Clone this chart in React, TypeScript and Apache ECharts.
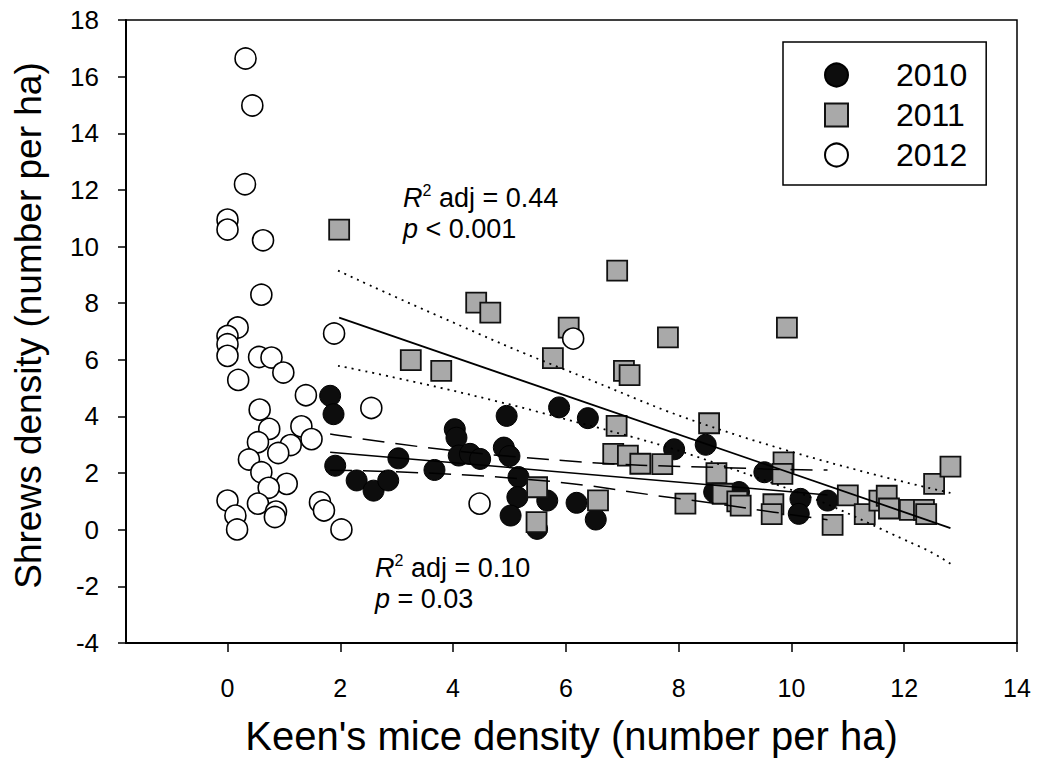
import React, { useEffect, useRef } from "react";
import * as echarts from "echarts";

const FONT = "'Liberation Sans', Arial, Helvetica, sans-serif";

// 2010 – filled black circles [Keen's mice density, Shrews density]
const data2010: number[][] = [
  [1.82, 4.73], [1.88, 4.08], [1.91, 2.26], [2.29, 1.74], [2.59, 1.38],
  [2.85, 1.74], [3.03, 2.52], [3.67, 2.11], [4.03, 3.55], [4.06, 3.25],
  [4.1, 2.62], [4.3, 2.68], [4.48, 2.5], [4.95, 4.02], [4.9, 2.9],
  [5.0, 2.6], [5.16, 1.86], [5.14, 1.15], [5.02, 0.5], [5.67, 1.03],
  [5.49, 0.03], [6.19, 0.95], [6.53, 0.36], [5.88, 4.32], [6.39, 3.94],
  [7.92, 2.84], [8.48, 3.0], [8.63, 1.33], [9.07, 1.33], [9.52, 2.03],
  [10.16, 1.09], [10.13, 0.56], [10.64, 1.03],
];

// 2011 – grey squares
const data2011: number[][] = [
  [1.98, 10.6], [3.25, 5.99], [3.79, 5.61], [4.41, 8.02], [4.66, 7.67],
  [5.77, 6.06], [6.05, 7.14], [6.91, 9.15], [7.03, 5.61], [7.13, 5.46],
  [7.81, 6.79], [9.92, 7.14], [6.9, 3.67], [8.54, 3.76], [6.84, 2.68],
  [7.1, 2.62], [7.32, 2.33], [7.71, 2.32], [8.67, 2.0], [8.78, 1.27],
  [5.49, 1.5], [6.57, 1.04], [5.48, 0.27], [8.12, 0.92], [9.86, 2.38],
  [9.84, 1.97], [9.04, 1.0], [9.1, 0.85], [9.68, 0.9], [9.65, 0.55],
  [11.0, 1.21], [11.3, 0.55], [11.56, 1.03], [11.69, 1.2], [11.73, 0.75],
  [12.1, 0.7], [12.35, 0.7], [12.39, 0.55], [12.53, 1.62], [12.82, 2.23],
  [10.73, 0.17],
];

// 2012 – open circles
const data2012: number[][] = [
  [0.32, 16.64], [0.44, 14.98], [0.31, 12.2], [0.0, 10.95], [0.0, 10.6],
  [0.63, 10.22], [0.6, 8.3], [0.18, 7.14], [0.0, 6.84], [0.0, 6.55],
  [0.0, 6.14], [0.56, 6.1], [0.78, 6.08], [0.99, 5.55], [0.19, 5.29],
  [1.89, 6.93], [1.39, 4.75], [0.57, 4.24], [2.55, 4.3], [0.74, 3.56],
  [1.31, 3.65], [1.49, 3.2], [0.54, 3.09], [1.12, 2.99], [0.9, 2.71],
  [0.38, 2.48], [0.6, 2.03], [1.05, 1.62], [0.73, 1.48], [0.0, 1.03],
  [0.54, 0.92], [0.86, 0.64], [0.84, 0.45], [0.14, 0.5], [0.17, 0.01],
  [1.64, 0.97], [1.71, 0.68], [2.02, 0.01], [4.47, 0.92], [6.13, 6.75],
];

// Regression lines and 95% confidence bands
const fit2011: number[][] = [[1.98, 7.49], [12.82, 0.06]];
const upper2011: number[][] = [[1.96, 9.15], [3.77, 7.52], [5.96, 5.67], [9.1, 3.3], [12.82, 1.3]];
const lower2011: number[][] = [[1.96, 5.79], [5.55, 4.14], [9.45, 1.8], [12.29, -0.61], [12.82, -1.2]];

const fit2010: number[][] = [[1.82, 2.74], [10.64, 1.23]];
const upper2010: number[][] = [[1.82, 3.38], [5.19, 2.56], [9.45, 2.15], [10.64, 2.11]];
const lower2010: number[][] = [[1.82, 2.1], [5.19, 1.8], [8.03, 1.09], [9.69, 0.62], [10.64, 0.35]];

const years = ["2010", "2011", "2012"];

const xAxisName = "Keen's mice density (number per ha)";
const yAxisName = "Shrews density (number per ha)";

function lineSeries(name: string, data: number[][], type: any, width: number, smooth: boolean) {
  return {
    name,
    type: "line",
    data,
    showSymbol: false,
    symbol: "none",
    silent: true,
    smooth,
    z: 5,
    lineStyle: { color: "#000", width, type },
  };
}

export default function App() {
  const ref = useRef<HTMLDivElement>(null);

  useEffect(() => {
    if (!ref.current) return;
    const chart = echarts.init(ref.current, undefined, { renderer: "svg" });
    const dotted = [2, 5];
    const dashed = [22, 11];
    const rich = {
      r: { fontSize: 27, fontStyle: "italic", fontFamily: FONT, lineHeight: 31 },
      s: { fontSize: 16, fontFamily: FONT, verticalAlign: "top", lineHeight: 31 },
      n: { fontSize: 27, fontFamily: FONT, lineHeight: 31 },
    };

    chart.setOption({
      animation: false,
      backgroundColor: "#fff",
      textStyle: { fontFamily: FONT },
      grid: {
        left: 126,
        right: 29,
        top: 20,
        bottom: 116,
        show: true,
        borderColor: "#000",
        borderWidth: 1.5,
      },
      xAxis: {
        type: "value",
        min: -1.8,
        max: 14,
        splitNumber: 8,
        name: xAxisName,
        nameLocation: "middle",
        nameGap: 73,
        nameTextStyle: { fontSize: 40, color: "#000", fontFamily: FONT },
        axisLine: { onZero: false, lineStyle: { color: "#000", width: 2 } },
        axisTick: { length: 9, lineStyle: { color: "#000", width: 1.5 } },
        axisLabel: {
          fontSize: 25,
          color: "#000",
          margin: 32,
          fontFamily: FONT,
          showMinLabel: false,
        },
        splitLine: { show: false },
      },
      yAxis: {
        type: "value",
        min: -4,
        max: 18,
        interval: 2,
        name: yAxisName,
        nameLocation: "middle",
        nameGap: 79,
        nameTextStyle: { fontSize: 37, color: "#000", fontFamily: FONT, padding: [0, 0, 0, 12] },
        axisLine: { onZero: false, lineStyle: { color: "#000", width: 2 } },
        axisTick: { length: 8, lineStyle: { color: "#000", width: 1.5 } },
        axisLabel: { fontSize: 26, color: "#000", margin: 27, fontFamily: FONT },
        splitLine: { show: false },
      },
      legend: {
        data: years,
        orient: "vertical",
        left: 783,
        top: 42,
        padding: [17, 19, 14, 41],
        itemGap: 8,
        itemWidth: 23,
        itemHeight: 23,
        borderColor: "#000",
        borderWidth: 1.5,
        textStyle: { fontSize: 32, color: "#000", fontFamily: FONT, padding: [0, 0, 0, 43] },
      },
      series: [
        {
          name: years[0],
          type: "scatter",
          data: data2010,
          symbol: "circle",
          symbolSize: 21,
          z: 2,
          itemStyle: { color: "#0d0d0d", borderColor: "#000", borderWidth: 1, opacity: 1 },
        },
        {
          name: years[1],
          type: "scatter",
          data: data2011,
          symbol: "rect",
          symbolSize: 20,
          z: 3,
          itemStyle: { color: "#a9a9a9", borderColor: "#111", borderWidth: 1.8, opacity: 1 },
        },
        {
          name: years[2],
          type: "scatter",
          data: data2012,
          symbol: "circle",
          symbolSize: 21,
          z: 4,
          itemStyle: { color: "#fff", borderColor: "#000", borderWidth: 1.6, opacity: 1 },
        },
        lineSeries("fit2011", fit2011, "solid", 1.8, false),
        lineSeries("upper2011", upper2011, dotted, 1.8, true),
        lineSeries("lower2011", lower2011, dotted, 1.8, true),
        lineSeries("fit2010", fit2010, "solid", 1.5, false),
        lineSeries("upper2010", upper2010, dashed, 1.5, true),
        lineSeries("lower2010", lower2010, dashed, 1.5, true),
      ],
      graphic: [
        {
          type: "text",
          left: 403,
          top: 182,
          z: 10,
          style: {
            text: "{r|R}{s|2}{n| adj = 0.44}\n{r|p}{n| < 0.001}",
            fill: "#000",
            rich,
          },
        },
        {
          type: "text",
          left: 375,
          top: 552,
          z: 10,
          style: {
            text: "{r|R}{s|2}{n| adj = 0.10}\n{r|p}{n| = 0.03}",
            fill: "#000",
            rich,
          },
        },
      ],
    });

    return () => chart.dispose();
  }, []);

  return (
    <div
      ref={ref}
      style={{ position: "fixed", left: 0, top: 0, width: 1046, height: 761, background: "#fff" }}
    />
  );
}
